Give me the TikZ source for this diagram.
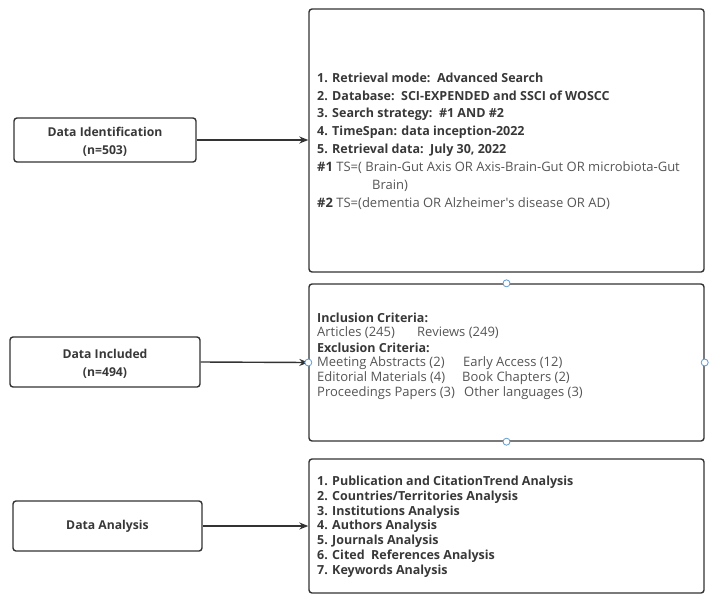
\documentclass[tikz,border=0pt]{standalone}
\usepackage{fontspec}
\setmainfont{Open Sans}
\usetikzlibrary{arrows.meta}
\definecolor{boxline}{HTML}{333333}
\definecolor{boldtxt}{HTML}{383838}
\definecolor{regtxt}{HTML}{555555}
\definecolor{handle}{HTML}{5B9BD5}
\tikzset{
  leftbox/.style={draw=boxline, line width=1.4pt, rounded corners=3pt, minimum width=#1, inner sep=0pt},
  rightbox/.style={draw=boxline, line width=1.4pt, rounded corners=3pt, minimum width=395pt, inner sep=0pt},
  rtxt/.style={anchor=west, inner sep=0pt, font=\fontsize{13}{15}\selectfont, text=regtxt},
  btxt/.style={anchor=west, inner sep=0pt, font=\fontsize{12.5}{14}\selectfont\bfseries, text=boldtxt},
  ctxt/.style={anchor=center, inner sep=0pt, font=\fontsize{12.2}{14}\selectfont\bfseries, text=boldtxt},
  conn/.style={draw=boxline, line width=1.4pt, -{Stealth[length=9pt,width=7pt]}},
  hnd/.style={circle, draw=handle, fill=white, line width=0.8pt, minimum size=7pt, inner sep=0pt}
}
\begin{document}
\begin{tikzpicture}[x=1pt,y=-1pt]
\useasboundingbox (0,0) rectangle (712,600);
% left boxes
\node[leftbox=182pt, minimum height=44pt] (ident) at (105,140) {};
\node[ctxt] (identA) at (105,132) {Data Identification};
\node[ctxt] (identB) at (105,151) {(n=503)};
\node[leftbox=190pt, minimum height=50pt] (incl) at (105,362) {};
\node[ctxt] (inclA) at (105,354) {Data Included};
\node[ctxt] (inclB) at (105,373) {(n=494)};
\node[leftbox=189pt, minimum height=50pt] (anal) at (107.5,526) {};
\node[ctxt] (analA) at (107.5,526) {Data Analysis};
% right boxes
\node[rightbox, minimum height=263pt] (r1) at (506.5,140.5) {};
\node[rightbox, minimum height=157pt] (r2) at (506.5,362.5) {};
\node[rightbox, minimum height=134pt] (r3) at (506.5,526) {};
% box 1 text
\node[btxt] (a1) at (317,78) {1. Retrieval mode:\ \ Advanced Search};
\node[btxt] (a2) at (317,96) {2. Database:\ \ SCI-EXPENDED and SSCI of WOSCC};
\node[btxt] (a3) at (317,114) {3. Search strategy:\ \ \#1 AND \#2};
\node[btxt] (a4) at (317,132) {4. TimeSpan: data inception-2022};
\node[btxt] (a5) at (317,150) {5. Retrieval data:\ \ July 30, 2022};
\node[rtxt] (a6) at (317,168) {\textbf{\color{boldtxt}\#1} TS=( Brain-Gut Axis OR Axis-Brain-Gut OR microbiota-Gut};
\node[rtxt] (a7) at (372,186) {Brain)};
\node[rtxt] (a8) at (317,204) {\textbf{\color{boldtxt}\#2} TS=(dementia OR Alzheimer\textquotesingle s disease OR AD)};
% box 2 text
\node[btxt] (b1) at (317,318) {Inclusion Criteria:};
\node[rtxt] (b2) at (317,333) {Articles (245)};
\node[rtxt] (b2r) at (417,333) {Reviews (249)};
\node[btxt] (b3) at (317,348) {Exclusion Criteria:};
\node[rtxt] (b4) at (317,363) {Meeting Abstracts (2)};
\node[rtxt] (b4r) at (463,363) {Early Access (12)};
\node[rtxt] (b5) at (317,378) {Editorial Materials (4)};
\node[rtxt] (b5r) at (462,378) {Book Chapters (2)};
\node[rtxt] (b6) at (317,393) {Proceedings Papers (3)};
\node[rtxt] (b6r) at (464,393) {Other languages (3)};
% box 3 text
\node[btxt] (c1) at (317,482) {1. Publication and CitationTrend Analysis};
\node[btxt] (c2) at (317,497) {2. Countries/Territories Analysis};
\node[btxt] (c3) at (317,512) {3. Institutions Analysis};
\node[btxt] (c4) at (317,526) {4. Authors Analysis};
\node[btxt] (c5) at (317,541) {5. Journals Analysis};
\node[btxt] (c6) at (317,556) {6. Cited\ \ References Analysis};
\node[btxt] (c7) at (317,571) {7. Keywords Analysis};
% connectors
\draw[conn] (ident.east) -- (ident.east -| r1.west);
\draw[conn] (incl.east) -- (r2.west);
\draw[conn] (anal.east) -- (anal.east -| r3.west);
% handles
\node[hnd] (h1) at (r2.north) {};
\node[hnd] (h2) at (r2.south) {};
\node[hnd] (h3) at (r2.west) {};
\node[hnd] (h4) at (r2.east) {};
\end{tikzpicture}
\end{document}
